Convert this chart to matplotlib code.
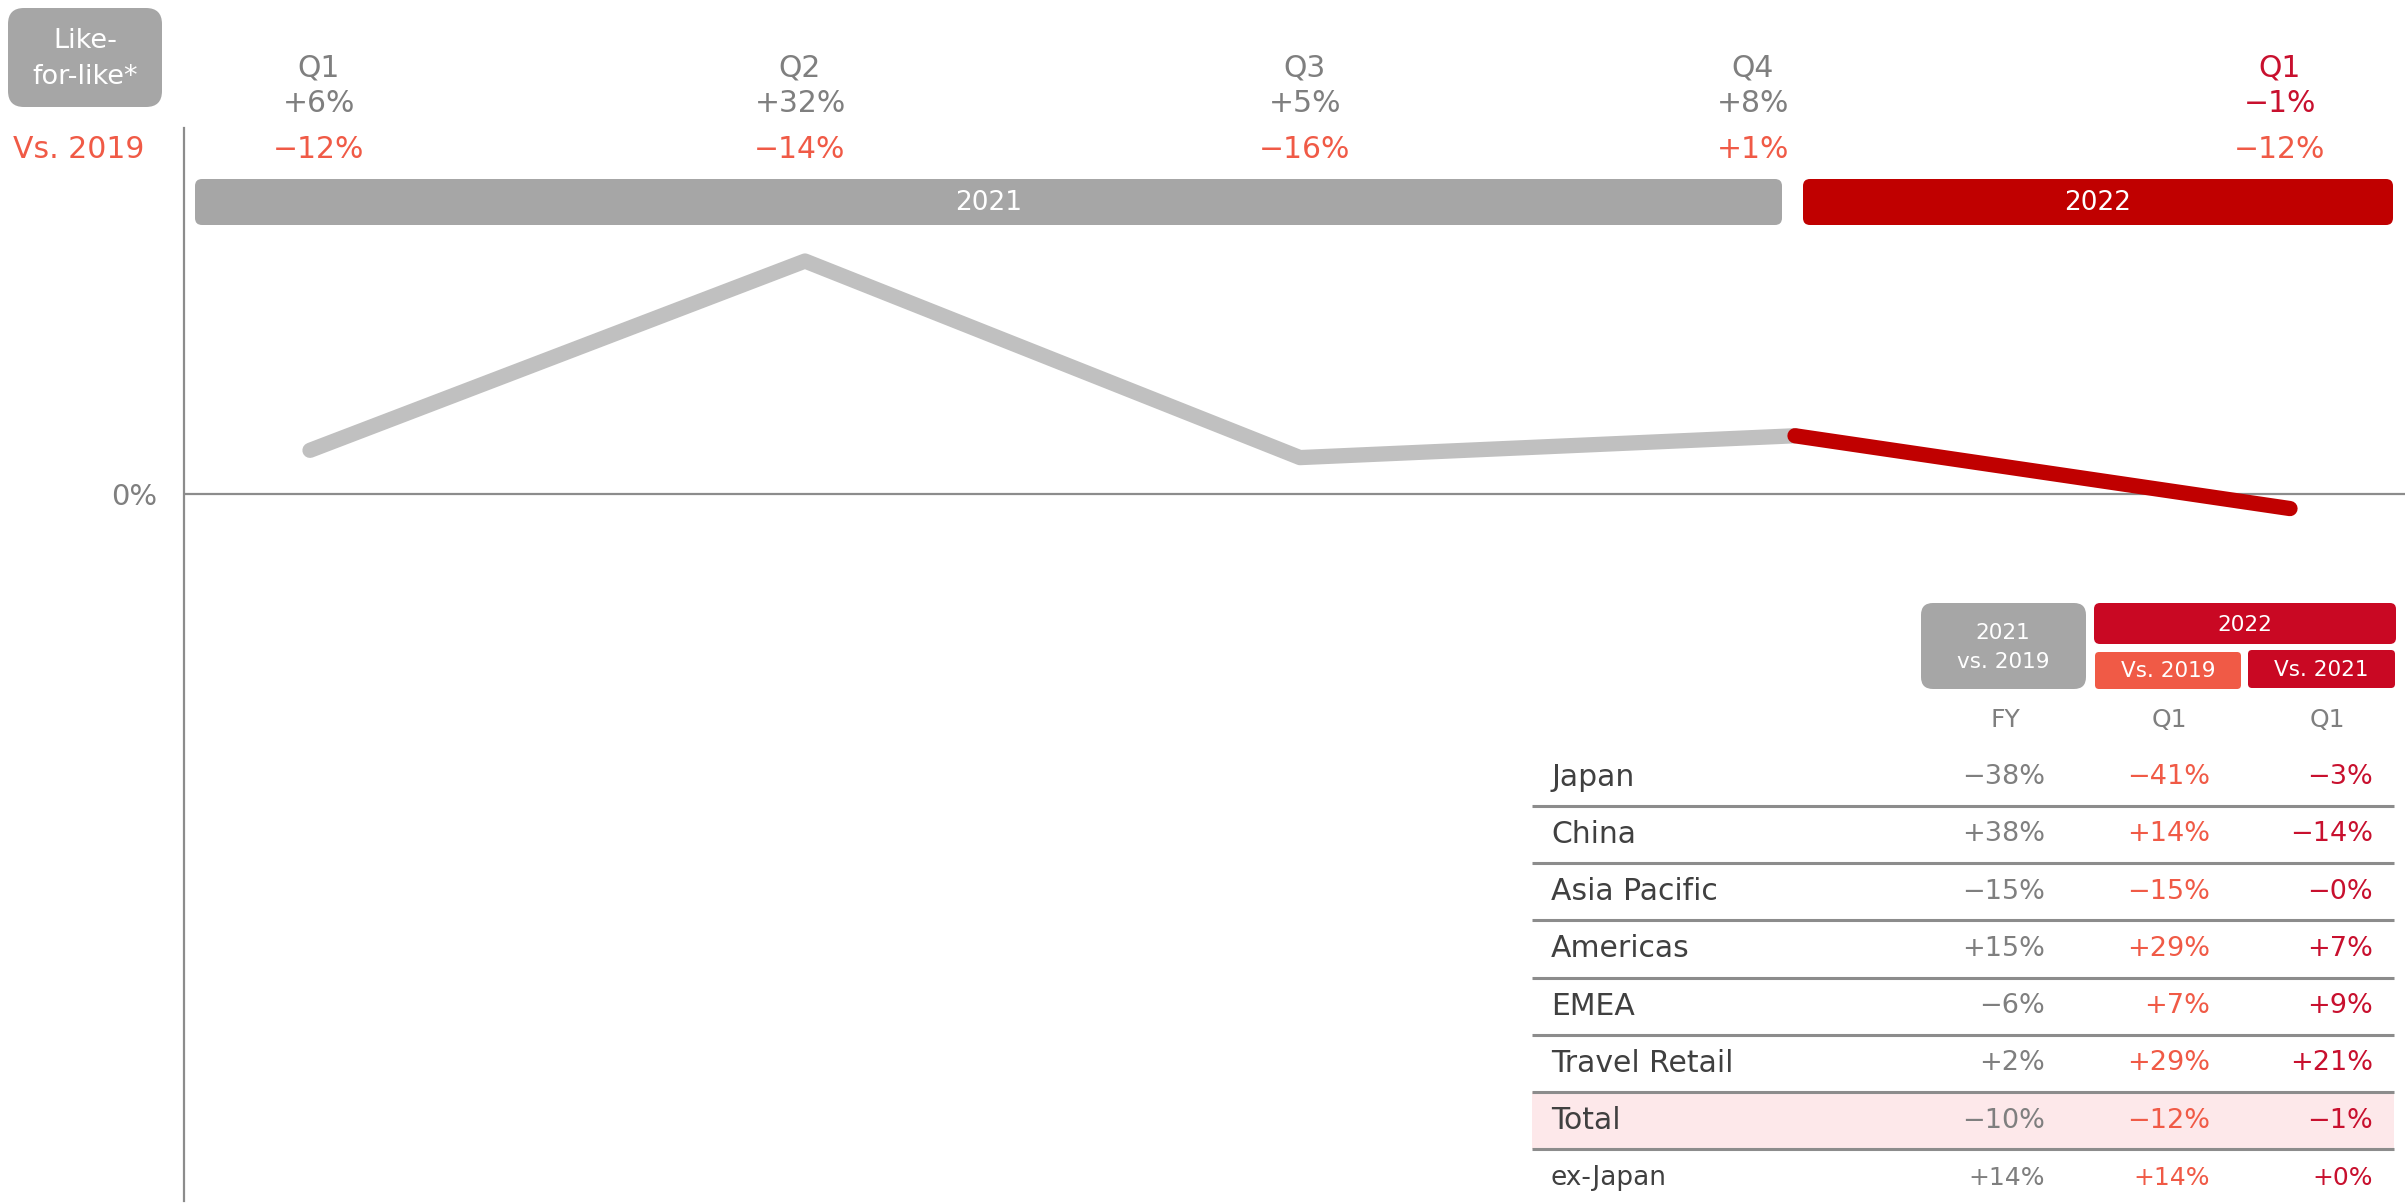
import numpy as np
import matplotlib
matplotlib.use("Agg")
import matplotlib.pyplot as plt
from matplotlib.patches import FancyBboxPatch, Rectangle
from matplotlib.transforms import blended_transform_factory

plt.rcParams['font.family'] = ['DejaVu Sans']

# --- data ---
quarters = ["Q1", "Q2", "Q3", "Q4", "Q1"]
years = ["2021", "2021", "2021", "2021", "2022"]
lfl = [6, 32, 5, 8, -1]            # like-for-like growth (labels)
lfl_line = [6, 32, 5, 8, -2]       # as plotted on the chart
vs2019 = [-12, -14, -16, 1, -12]   # vs. 2019

regions = ["Japan", "China", "Asia Pacific", "Americas", "EMEA",
           "Travel Retail", "Total", "ex-Japan"]
fy21_vs19 = ["−38%", "+38%", "−15%", "+15%", "−6%", "+2%", "−10%", "+14%"]
q1_22_vs19 = ["−41%", "+14%", "−15%", "+29%", "+7%", "+29%", "−12%", "+14%"]
q1_22_vs21 = ["−3%", "−14%", "−0%", "+7%", "+9%", "+21%", "−1%", "+0%"]

GREY_TXT = "#7F7F7F"
ORANGE = "#F05A46"
CRIMSON = "#C8102E"
DARKRED = "#C00000"
BOXGREY = "#A6A6A6"
AXGREY = "#8C8C8C"


def fmt(v):
    return ("+%d%%" % v) if v >= 0 else ("−%d%%" % abs(v))


W, H = 2405, 1204
fig = plt.figure(figsize=(W / 100, H / 100), dpi=100)

# main line axes (pixel layout: left 184, top 128, bottom 1201)
ax = fig.add_axes([184 / W, 1 - 1201 / H, 1 - 184 / W, (1201 - 128) / H])
x = np.arange(len(lfl))
px_x = (2290 - 310) / 4
px_y = 7.28
ax.set_xlim(-(310 - 184) / px_x, 4 + (W - 2290) / px_x)
ax.set_ylim(-(1201 - 494) / px_y, (494 - 128) / px_y)

ax.plot(x[:4], lfl_line[:4], color="#C0C0C0", lw=11, solid_capstyle="round",
        solid_joinstyle="round", zorder=3)
ax.plot(x[3:], lfl_line[3:], color=DARKRED, lw=11, solid_capstyle="round",
        solid_joinstyle="round", zorder=4)
ax.axhline(0, color=AXGREY, lw=1.6, zorder=2)

for s in ["top", "right", "bottom"]:
    ax.spines[s].set_visible(False)
ax.spines["left"].set_color(AXGREY)
ax.spines["left"].set_linewidth(1.6)
ax.set_xticks([])
ax.set_yticks([0])
ax.set_yticklabels(["0%"], fontsize=21, color=GREY_TXT)
ax.tick_params(axis="y", length=0, pad=19)

# overlay axes in pixel coordinates for header and table
ov = fig.add_axes([0, 0, 1, 1], zorder=5)
ov.set_xlim(0, W)
ov.set_ylim(H, 0)
ov.axis("off")
ov.patch.set_alpha(0)


def rbox(x0, y0, x1, y1, color, r=6):
    ov.add_patch(FancyBboxPatch((x0, y0), x1 - x0, y1 - y0,
                                boxstyle="round,pad=0,rounding_size=%g" % r,
                                fc=color, ec="none"))


# Like-for-like box
rbox(8, 8, 162, 107, BOXGREY, r=16)
ov.text(85, 41, "Like-", ha="center", va="center", color="white", fontsize=19.5)
ov.text(85, 77, "for-like*", ha="center", va="center", color="white", fontsize=19.5)
ov.text(13, 150, "Vs. 2019", ha="left", va="center", color=ORANGE, fontsize=21.5)

# quarter headers, x from the line axes, y in pixels
tr = blended_transform_factory(ax.transData, ov.transData)
label_dx = [9, -5, 5, -42, -10]
for i, (q, y, a, b) in enumerate(zip(quarters, years, lfl, vs2019)):
    xi = x[i] + label_dx[i] / px_x
    c = CRIMSON if y == "2022" else GREY_TXT
    ov.text(xi, 68, q, ha="center", va="center", color=c, fontsize=21.5, transform=tr)
    ov.text(xi, 103, fmt(a), ha="center", va="center", color=c, fontsize=21.5, transform=tr)
    ov.text(xi, 150, fmt(b), ha="center", va="center", color=ORANGE, fontsize=21.5,
            transform=tr)

# year bars
rbox(195, 179, 1782, 225, BOXGREY, r=7)
ov.text((195 + 1782) / 2, 203, "2021", ha="center", va="center", color="white",
        fontsize=19)
rbox(1803, 179, 2393, 225, DARKRED, r=7)
ov.text((1803 + 2393) / 2, 203, "2022", ha="center", va="center", color="white",
        fontsize=19)

# table header
rbox(1921, 603, 2086, 689, BOXGREY, r=12)
ov.text(2003, 633, "2021", ha="center", va="center", color="white", fontsize=15.5)
ov.text(2003, 662, "vs. 2019", ha="center", va="center", color="white", fontsize=15.5)
rbox(2094, 603, 2396, 644, "#C90823", r=6)
ov.text(2245, 625, "2022", ha="center", va="center", color="white", fontsize=15.5)
rbox(2095, 652, 2241, 689, ORANGE, r=4)
ov.text(2168, 671, "Vs. 2019", ha="center", va="center", color="white", fontsize=15.5)
rbox(2248, 650, 2395, 688, "#C90823", r=4)
ov.text(2321, 670, "Vs. 2021", ha="center", va="center", color="white", fontsize=15.5)

ov.text(2005, 720, "FY", ha="center", va="center", color=GREY_TXT, fontsize=18)
ov.text(2169, 720, "Q1", ha="center", va="center", color=GREY_TXT, fontsize=18)
ov.text(2327, 720, "Q1", ha="center", va="center", color=GREY_TXT, fontsize=18)

# table rows
row_y0, row_h = 777, 57.3
for i, name in enumerate(regions):
    yc = row_y0 + i * row_h
    if name == "Total":
        ov.add_patch(Rectangle((1532, yc - row_h / 2), 2394 - 1532, row_h,
                               fc="#FDE8EA", ec="none", zorder=0))
    lab_fs = 19 if name == "ex-Japan" else 21.5
    val_fs = 18 if name == "ex-Japan" else 19.5
    ov.text(1551, yc, name, ha="left", va="center", color="#404040", fontsize=lab_fs)
    ov.text(2045, yc, fy21_vs19[i], ha="right", va="center", color=GREY_TXT, fontsize=val_fs)
    ov.text(2210, yc, q1_22_vs19[i], ha="right", va="center", color=ORANGE, fontsize=val_fs)
    ov.text(2373, yc, q1_22_vs21[i], ha="right", va="center", color=CRIMSON, fontsize=val_fs)
    if i < len(regions) - 1:
        ov.plot([1532, 2394], [yc + row_h / 2] * 2, color=AXGREY, lw=2.2,
                solid_capstyle="butt")

fig.savefig("out.png", dpi=100)
